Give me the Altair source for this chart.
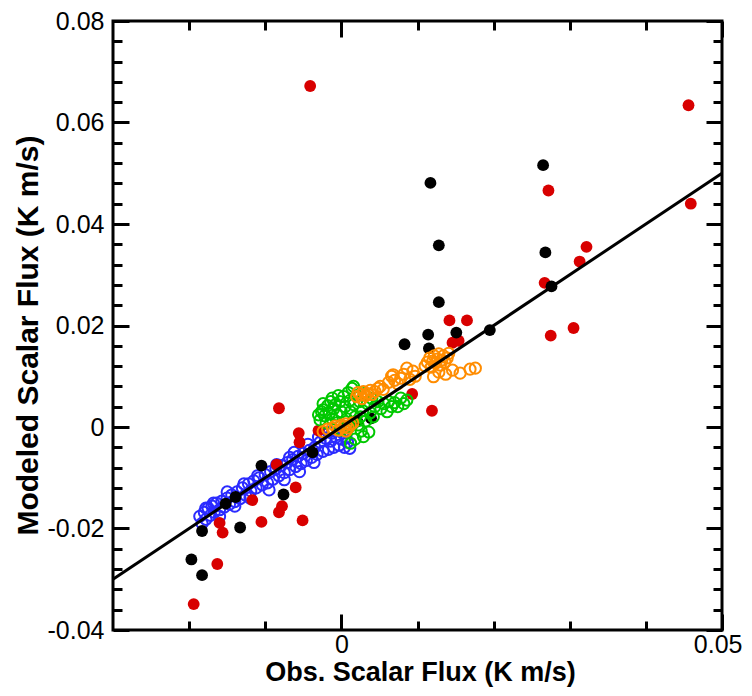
import altair as alt
import pandas as pd

# ---------------- data ----------------
X_DOMAIN = [-0.03, 0.05]
Y_DOMAIN = [-0.04, 0.08]

x_label_values = [0, 0.05]
x_minor_values = [-0.02, -0.01, 0.01, 0.02, 0.03, 0.04]
y_label_values = [-0.04, -0.02, 0, 0.02, 0.04, 0.06, 0.08]
y_minor_values = [-0.036, -0.032, -0.028, -0.024, -0.016, -0.012, -0.008, -0.004,
                  0.004, 0.008, 0.012, 0.016, 0.024, 0.028, 0.032, 0.036,
                  0.044, 0.048, 0.052, 0.056, 0.064, 0.068, 0.072, 0.076]

black_x = [-0.0183, -0.0152, -0.0139, -0.0105, -0.0076, -0.0133, -0.0038, -0.0197,
           -0.0183, 0.0039, 0.0021, 0.0083, 0.0114, 0.0151, 0.0115, 0.0195,
           0.0117, 0.0265, 0.0128, 0.0268, 0.0128, 0.0276]
black_y = [-0.0205, -0.0151, -0.0138, -0.0076, -0.0133, -0.0198, -0.0050, -0.0261,
           -0.0292, 0.0017, 0.0011, 0.0163, 0.0182, 0.0186, 0.0155, 0.0191,
           0.0481, 0.0516, 0.0358, 0.0344, 0.0246, 0.0277]

red_x = [-0.0041, -0.0082, -0.0056, -0.0055, -0.0085, -0.0030, -0.0060, -0.0117,
         -0.0078, -0.0082, -0.0105, -0.0051, -0.0160, -0.0156, -0.0163, -0.0194,
         0.0093, 0.0119, 0.0142, 0.0165, 0.0146, 0.0154, 0.0272, 0.0322,
         0.0313, 0.0267, 0.0305, 0.0275, 0.0456, 0.0459]
red_y = [0.0672, 0.0037, -0.0012, -0.0030, -0.0074, -0.0007, -0.0119, -0.0144,
         -0.0156, -0.0168, -0.0187, -0.0184, -0.0189, -0.0208, -0.0270, -0.0349,
         0.0065, 0.0032, 0.0210, 0.0210, 0.0166, 0.0170, 0.0466, 0.0355,
         0.0326, 0.0284, 0.0195, 0.0180, 0.0634, 0.0440]

blue_x = [-0.0186, -0.0183, -0.0180, -0.0178, -0.0175, -0.0172, -0.0170, -0.0167,
          -0.0164, -0.0160, -0.0157, -0.0154, -0.0150, -0.0147, -0.0144, -0.0140,
          -0.0137, -0.0133, -0.0130, -0.0126, -0.0122, -0.0119, -0.0115, -0.0112,
          -0.0108, -0.0104, -0.0100, -0.0097, -0.0093, -0.0090, -0.0086, -0.0082,
          -0.0079, -0.0075, -0.0071, -0.0068, -0.0064, -0.0060, -0.0057, -0.0053,
          -0.0050, -0.0046, -0.0042, -0.0039, -0.0035, -0.0032, -0.0028, -0.0024,
          -0.0021, -0.0017, -0.0014, -0.0010, -0.0007, -0.0003, 0.0000, 0.0004,
          0.0008, 0.0011, -0.0036, -0.0055, -0.0075, -0.0095, -0.0120, -0.0140,
          -0.0160, -0.0012, 0.0002, -0.0025, -0.0178, -0.0150, -0.0110, -0.0085,
          -0.0062, -0.0044, -0.0030, -0.0016, 0.0006, -0.0068, -0.0128, -0.0168]
blue_y = [-0.0176, -0.0190, -0.0168, -0.0182, -0.0160, -0.0174, -0.0156, -0.0168,
          -0.0150, -0.0163, -0.0146, -0.0158, -0.0140, -0.0152, -0.0134, -0.0147,
          -0.0128, -0.0141, -0.0120, -0.0134, -0.0112, -0.0126, -0.0106, -0.0120,
          -0.0100, -0.0114, -0.0094, -0.0110, -0.0088, -0.0103, -0.0082, -0.0096,
          -0.0076, -0.0090, -0.0070, -0.0084, -0.0064, -0.0078, -0.0058, -0.0072,
          -0.0052, -0.0066, -0.0046, -0.0060, -0.0040, -0.0054, -0.0030, -0.0048,
          -0.0022, -0.0044, -0.0028, -0.0040, -0.0020, -0.0036, -0.0024, -0.0040,
          -0.0030, -0.0042, -0.0070, -0.0088, -0.0104, -0.0124, -0.0140, -0.0156,
          -0.0176, -0.0012, -0.0012, -0.0012, -0.0160, -0.0128, -0.0096, -0.0074,
          -0.0050, -0.0034, -0.0020, -0.0010, -0.0020, -0.0060, -0.0112, -0.0150]

green_x = [-0.0028, -0.0026, -0.0024, -0.0022, -0.0020, -0.0018, -0.0016, -0.0014,
           -0.0012, -0.0012, -0.0010, -0.0008, -0.0006, -0.0004, -0.0002, 0.0000,
           0.0003, 0.0005, 0.0007, 0.0009, 0.0011, 0.0012, 0.0014, 0.0016,
           0.0016, 0.0018, 0.0020, 0.0022, 0.0024, 0.0026, 0.0028, 0.0029,
           0.0030, 0.0032, 0.0034, 0.0036, 0.0038, 0.0012, 0.0018, 0.0040,
           0.0044, 0.0048, 0.0052, 0.0056, 0.0062, 0.0066, 0.0070, 0.0078,
           0.0082, 0.0086, 0.0060, 0.0000, 0.0006, -0.0006, -0.0030, -0.0024,
           0.0010, 0.0025, 0.0042, 0.0074]
green_y = [0.0014, 0.0030, 0.0034, 0.0022, 0.0008, 0.0042, 0.0026, 0.0050,
           0.0057, 0.0016, 0.0036, 0.0044, 0.0024, 0.0062, 0.0050, 0.0030,
           0.0060, 0.0040, 0.0016, 0.0068, 0.0052, 0.0030, 0.0076, 0.0080,
           0.0044, 0.0020, 0.0062, 0.0004, 0.0050, -0.0008, 0.0032, -0.0019,
           0.0066, 0.0012, 0.0046, -0.0010, 0.0028, -0.0032, -0.0024, 0.0056,
           0.0040, 0.0050, 0.0036, 0.0046, 0.0050, 0.0040, 0.0048, 0.0057,
           0.0046, 0.0053, 0.0030, -0.0006, 0.0000, 0.0008, 0.0024, 0.0046,
           0.0000, 0.0020, 0.0020, 0.0040]

orange_x = [-0.0024, -0.0018, -0.0012, -0.0008, -0.0004, 0.0000, 0.0003, 0.0006,
            0.0009, 0.0012, 0.0015, 0.0006, 0.0020, 0.0022, 0.0025, 0.0027,
            0.0029, 0.0032, 0.0034, 0.0038, 0.0040, 0.0044, 0.0048, 0.0051,
            0.0055, 0.0062, 0.0066, 0.0068, 0.0070, 0.0074, 0.0078, 0.0082,
            0.0086, 0.0090, 0.0094, 0.0097, 0.0110, 0.0113, 0.0116, 0.0118,
            0.0120, 0.0122, 0.0124, 0.0126, 0.0128, 0.0130, 0.0132, 0.0134,
            0.0136, 0.0139, 0.0141, 0.0121, 0.0128, 0.0137, 0.0146, 0.0156,
            0.0169, 0.0176]
orange_y = [-0.0009, -0.0004, -0.0002, 0.0002, -0.0006, 0.0004, 0.0000, 0.0006,
            -0.0002, 0.0004, 0.0008, -0.0008, 0.0060, 0.0068, 0.0063, 0.0056,
            0.0070, 0.0062, 0.0066, 0.0072, 0.0064, 0.0070, 0.0076, 0.0080,
            0.0074, 0.0088, 0.0100, 0.0103, 0.0092, 0.0085, 0.0096, 0.0104,
            0.0116, 0.0094, 0.0110, 0.0100, 0.0120, 0.0128, 0.0136, 0.0118,
            0.0130, 0.0140, 0.0126, 0.0134, 0.0144, 0.0122, 0.0132, 0.0140,
            0.0128, 0.0136, 0.0145, 0.0099, 0.0108, 0.0104, 0.0112, 0.0106,
            0.0114, 0.0116]

line_x = [-0.03, 0.05]
line_y = [-0.03, 0.05]

X_TITLE = "Obs. Scalar Flux (K m/s)"
Y_TITLE = "Modeled Scalar Flux (K m/s)"

# ---------------- chart ----------------
W, H = 609, 609
FONT = "Liberation Sans"
LABEL_EXPR = "abs(datum.value) < 1e-9 ? '0' : replace(format(datum.value, '.2f'), '\u2212', '-')"


def frame(xs, ys):
    return pd.DataFrame([{"x": a, "y": b} for a, b in zip(xs, ys)])


x_scale = alt.Scale(domain=X_DOMAIN, nice=False, zero=False)
y_scale = alt.Scale(domain=Y_DOMAIN, nice=False, zero=False)


def X(axis):
    return alt.X("x:Q", scale=x_scale, axis=axis)


def Y(axis):
    return alt.Y("y:Q", scale=y_scale, axis=axis)


def tick_axis(orient, values, size, extent):
    return alt.Axis(orient=orient, offset=-extent, values=values, ticks=True,
                    tickSize=size, tickWidth=3, tickColor="black", labels=False,
                    domain=False, grid=False, title=None)


x_main = alt.Axis(orient="bottom", values=x_label_values, ticks=False, tickSize=0,
                  domain=False, grid=False, labelFlush=True, labelFlushOffset=20,
                  labelFont=FONT,
                  labelFontSize=25, labelColor="black", labelPadding=22,
                  labelBaseline="alphabetic", labelExpr=LABEL_EXPR,
                  title=X_TITLE, titleFont=FONT, titleFontSize=27,
                  titleFontWeight="bold", titleColor="black", titleX=307, titleY=50,
                  titleAlign="center", titleBaseline="alphabetic")

y_main = alt.Axis(orient="left", values=y_label_values, ticks=False, tickSize=0,
                  domain=False, grid=False, labelFlush=False, labelFont=FONT,
                  labelFontSize=25, labelColor="black", labelPadding=9,
                  labelBaseline="middle", labelExpr=LABEL_EXPR,
                  title=Y_TITLE, titleFont=FONT, titleFontSize=30,
                  titleFontWeight="bold", titleColor="black", titleAngle=270,
                  titleX=-76, titleY=314, titleAlign="center",
                  titleBaseline="alphabetic")

BLUE = "#2b2bff"
GREEN = "#00c800"
ORANGE = "#ff8c00"
RED = "#d80000"
BLACK = "#000000"

OPEN_SIZE = 125
FILLED_SIZE = 140

blue = alt.Chart(frame(blue_x, blue_y)).mark_point(
    shape="circle", filled=False, size=OPEN_SIZE, strokeWidth=2, color=BLUE, opacity=1
).encode(x=X(x_main), y=Y(y_main))

red = alt.Chart(frame(red_x, red_y)).mark_circle(
    size=FILLED_SIZE, color=RED, opacity=1
).encode(x=X(tick_axis("top", x_label_values, 16, H)),
         y=Y(tick_axis("right", y_label_values, 16, W)))

black = alt.Chart(frame(black_x, black_y)).mark_circle(
    size=FILLED_SIZE, color=BLACK, opacity=1
).encode(x=X(tick_axis("top", x_minor_values, 9, H)),
         y=Y(tick_axis("right", y_minor_values, 9, W)))

green = alt.Chart(frame(green_x, green_y)).mark_point(
    shape="circle", filled=False, size=OPEN_SIZE, strokeWidth=2, color=GREEN, opacity=1
).encode(x=X(tick_axis("bottom", x_label_values, 16, H)),
         y=Y(tick_axis("left", y_label_values, 16, W)))

orange = alt.Chart(frame(orange_x, orange_y)).mark_point(
    shape="circle", filled=False, size=OPEN_SIZE, strokeWidth=2, color=ORANGE, opacity=1
).encode(x=X(tick_axis("bottom", x_minor_values, 9, H)),
         y=Y(tick_axis("left", y_minor_values, 9, W)))

line = alt.Chart(frame(line_x, line_y)).mark_line(
    color="black", strokeWidth=3
).encode(x=alt.X("x:Q", scale=x_scale, axis=None),
         y=alt.Y("y:Q", scale=y_scale, axis=None))

chart = alt.layer(blue, red, black, green, orange, line).resolve_axis(
    x="independent", y="independent"
).properties(
    width=W, height=H,
    padding={"left": 105, "top": 13, "right": 22, "bottom": 58},
    autosize=alt.AutoSizeParams(type="none"),
    background="white",
).configure_view(stroke="black", strokeWidth=3)

chart.save("out.html", embed_options={"renderer": "svg", "actions": False})
